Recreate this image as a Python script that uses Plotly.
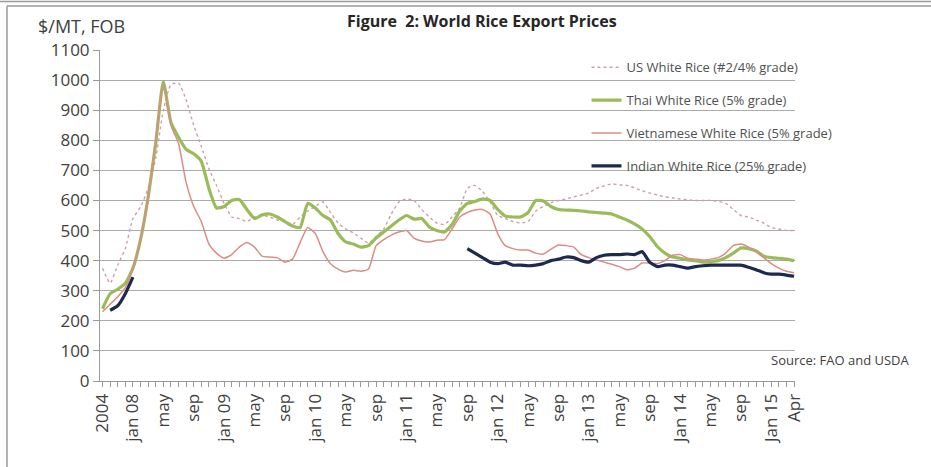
import plotly.graph_objects as go

# ---- data -------------------------------------------------------------
months = ["jan", "feb", "mar", "apr", "may", "jun", "jul", "aug", "sep", "oct", "nov", "dec"]
categories = ["2004", "2005", "2006", "2007"] + [
    f"{m} {y:02d}" for y in range(8, 16) for m in months
][:88]

tick_labels = {
    "2004": "2004", "jan 08": "jan 08", "may 08": "may", "sep 08": "sep",
    "jan 09": "jan 09", "may 09": "may", "sep 09": "sep",
    "jan 10": "jan 10", "may 10": "may", "sep 10": "sep",
    "jan 11": "jan 11", "may 11": "may", "sep 11": "sep",
    "jan 12": "jan 12", "may 12": "may", "sep 12": "sep",
    "jan 13": "jan 13", "may 13": "may", "sep 13": "sep",
    "jan 14": "Jan 14", "may 14": "may", "sep 14": "sep",
    "jan 15": "Jan 15", "apr 15": "Apr",
}

us_white = [
    375, 325, 385, 440, 540, 578, 640, 740, 900, 985, 990, 935, 850, 780, 705, 650,
    590, 545, 540, 530, 545, 550, 545, 535, 530, 520, 545, 565, 580, 595, 560, 525,
    505, 492, 475, 458, 480, 505, 555, 595, 605, 600, 570, 545, 525, 520, 545, 575,
    640, 650, 630, 595, 550, 540, 530, 525, 530, 565, 580, 592, 600, 605, 612, 618,
    625, 640, 648, 655, 652, 650, 642, 632, 625, 618, 612, 608, 605, 602, 600, 600,
    600, 597, 590, 570, 550, 545, 535, 525, 510, 505, 500, 500,
]

thai_white = [
    240, 290, 305, 325, 375, 470, 610, 790, 995, 860, 810, 770, 755, 730, 640, 575,
    580, 600, 603, 570, 540, 552, 555, 545, 530, 515, 510, 590, 575, 550, 535, 490,
    462, 455, 445, 450, 475, 495, 515, 535, 550, 538, 540, 512, 500, 495, 520, 565,
    590, 597, 605, 600, 570, 548, 545, 545, 560, 600, 598, 580, 570, 568, 567, 565,
    562, 560, 558, 555, 545, 535, 522, 505, 480, 447, 425, 412, 408, 402, 400, 395,
    397, 400, 410, 425, 442, 440, 432, 415, 410, 408, 405, 400,
]

viet_white = [
    230, 255, 280, 310, 375, 470, 610, 800, 990, 850, 790, 660, 580, 530, 455, 425,
    408, 420, 445, 460, 445, 415, 412, 410, 395, 405, 460, 510, 490, 430, 390, 372,
    362, 368, 365, 372, 450, 470, 485, 495, 500, 475, 465, 462, 468, 470, 505, 545,
    560, 568, 570, 555, 490, 450, 440, 435, 435, 425, 422, 438, 452, 450, 445, 420,
    410, 402, 395, 388, 380, 370, 375, 392, 392, 390, 400, 418, 420, 408, 405, 402,
    405, 410, 425, 450, 455, 445, 430, 410, 390, 375, 365, 360,
]

indian_white = [
    None, 235, 250, 290, 345, None, None, None, None, None, None, None, None, None, None, None,
    None, None, None, None, None, None, None, None, None, None, None, None, None, None, None, None,
    None, None, None, None, None, None, None, None, None, None, None, None, None, None, None, None,
    440, 425, 410, 395, 390, 395, 385, 385, 383, 385, 390, 400, 405, 412, 410, 400,
    395, 410, 418, 420, 420, 422, 420, 430, 395, 380, 385, 385, 380, 375, 380, 383,
    385, 385, 385, 385, 385, 378, 370, 360, 355, 355, 352, 348,
]

series_names = [
    "US White Rice (#2/4% grade)",
    "Thai White Rice (5% grade)",
    "Vietnamese White Rice (5% grade)",
    "Indian White Rice (25% grade)",
]
y_ticks = list(range(0, 1101, 100))

# ---- figure -----------------------------------------------------------
FONT = "Open Sans"
W, H = 931, 467
L, R, T, B = 100, 136, 50, 86

fig = go.Figure()
styles = [
    dict(color="#C9A0AC", width=1.4, dash="dot"),
    dict(color="#9BBB59", width=3.2),
    dict(color="#DA8C88", width=1.5),
    dict(color="#1B2A4E", width=3.2),
]
for name, vals, st in zip(series_names, [us_white, thai_white, viet_white, indian_white], styles):
    fig.add_trace(go.Scatter(
        x=categories, y=vals, name=name, mode="lines",
        line=dict(shape="spline", smoothing=0.5, **st),
        connectgaps=False, legendgroup=name,
    ))

fig.update_layout(
    width=W, height=H,
    margin=dict(l=L, r=R, t=T, b=B),
    paper_bgcolor="white", plot_bgcolor="white",
    font=dict(family=FONT, color="#404040"),
    showlegend=True,
    legend=dict(
        x=0.70, y=0.993, xanchor="left", yanchor="top",
        bgcolor="rgba(0,0,0,0)", font=dict(size=13, color="#505050"),
        tracegroupgap=13, traceorder="grouped",
    ),
)

fig.update_xaxes(
    type="category", categoryorder="array", categoryarray=categories,
    range=[-0.33, len(categories) - 1 + 0.12],
    tickmode="array", tickvals=categories,
    ticktext=[tick_labels.get(c, "") for c in categories],
    tickangle=-90, tickfont=dict(size=17, color="#404040"),
    ticks="outside", ticklen=5, tickcolor="#999999",
    showline=True, linecolor="#999999", linewidth=1,
    showgrid=False, zeroline=False,
)
fig.update_yaxes(
    range=[0, 1100], tickmode="array", tickvals=y_ticks,
    tickfont=dict(size=17, color="#404040"),
    ticks="outside", ticklen=6, tickcolor="#999999",
    showline=True, linecolor="#999999", linewidth=1,
    showgrid=True, gridcolor="#ABABAB", gridwidth=1.2,
    zeroline=False,
)

pw, ph = W - L - R, H - T - B
def px(xp):
    return (xp - L) / pw
def py(yp):
    return (H - B - yp) / ph

fig.add_annotation(
    text="<b>Figure  2: World Rice Export Prices</b>", xref="paper", yref="paper",
    x=px(482), y=py(21), xanchor="center", yanchor="middle", showarrow=False,
    font=dict(size=16, color="#262626", family=FONT),
)
fig.add_annotation(
    text="$/MT, FOB", xref="paper", yref="paper", xanchor="left", yanchor="middle",
    x=px(36), y=py(26), showarrow=False, font=dict(size=18, color="#404040", family=FONT),
)
fig.add_annotation(
    text="Source: FAO and USDA", xref="paper", yref="paper", xanchor="right", yanchor="middle",
    x=px(912), y=py(360), showarrow=False, font=dict(size=13, color="#404040", family=FONT),
)

# chart frame (left edge and top edges)
fig.add_shape(type="line", xref="paper", yref="paper",
              x0=px(7), x1=px(7), y0=py(470), y1=py(6),
              line=dict(color="#9A9A9A", width=1.5))
fig.add_shape(type="line", xref="paper", yref="paper",
              x0=px(7), x1=px(931), y0=py(6), y1=py(6),
              line=dict(color="#9A9A9A", width=1.5))
fig.add_shape(type="line", xref="paper", yref="paper",
              x0=px(0), x1=px(931), y0=py(1.5), y1=py(1.5),
              line=dict(color="#9A9A9A", width=1.5))

fig.write_html("out.html")
